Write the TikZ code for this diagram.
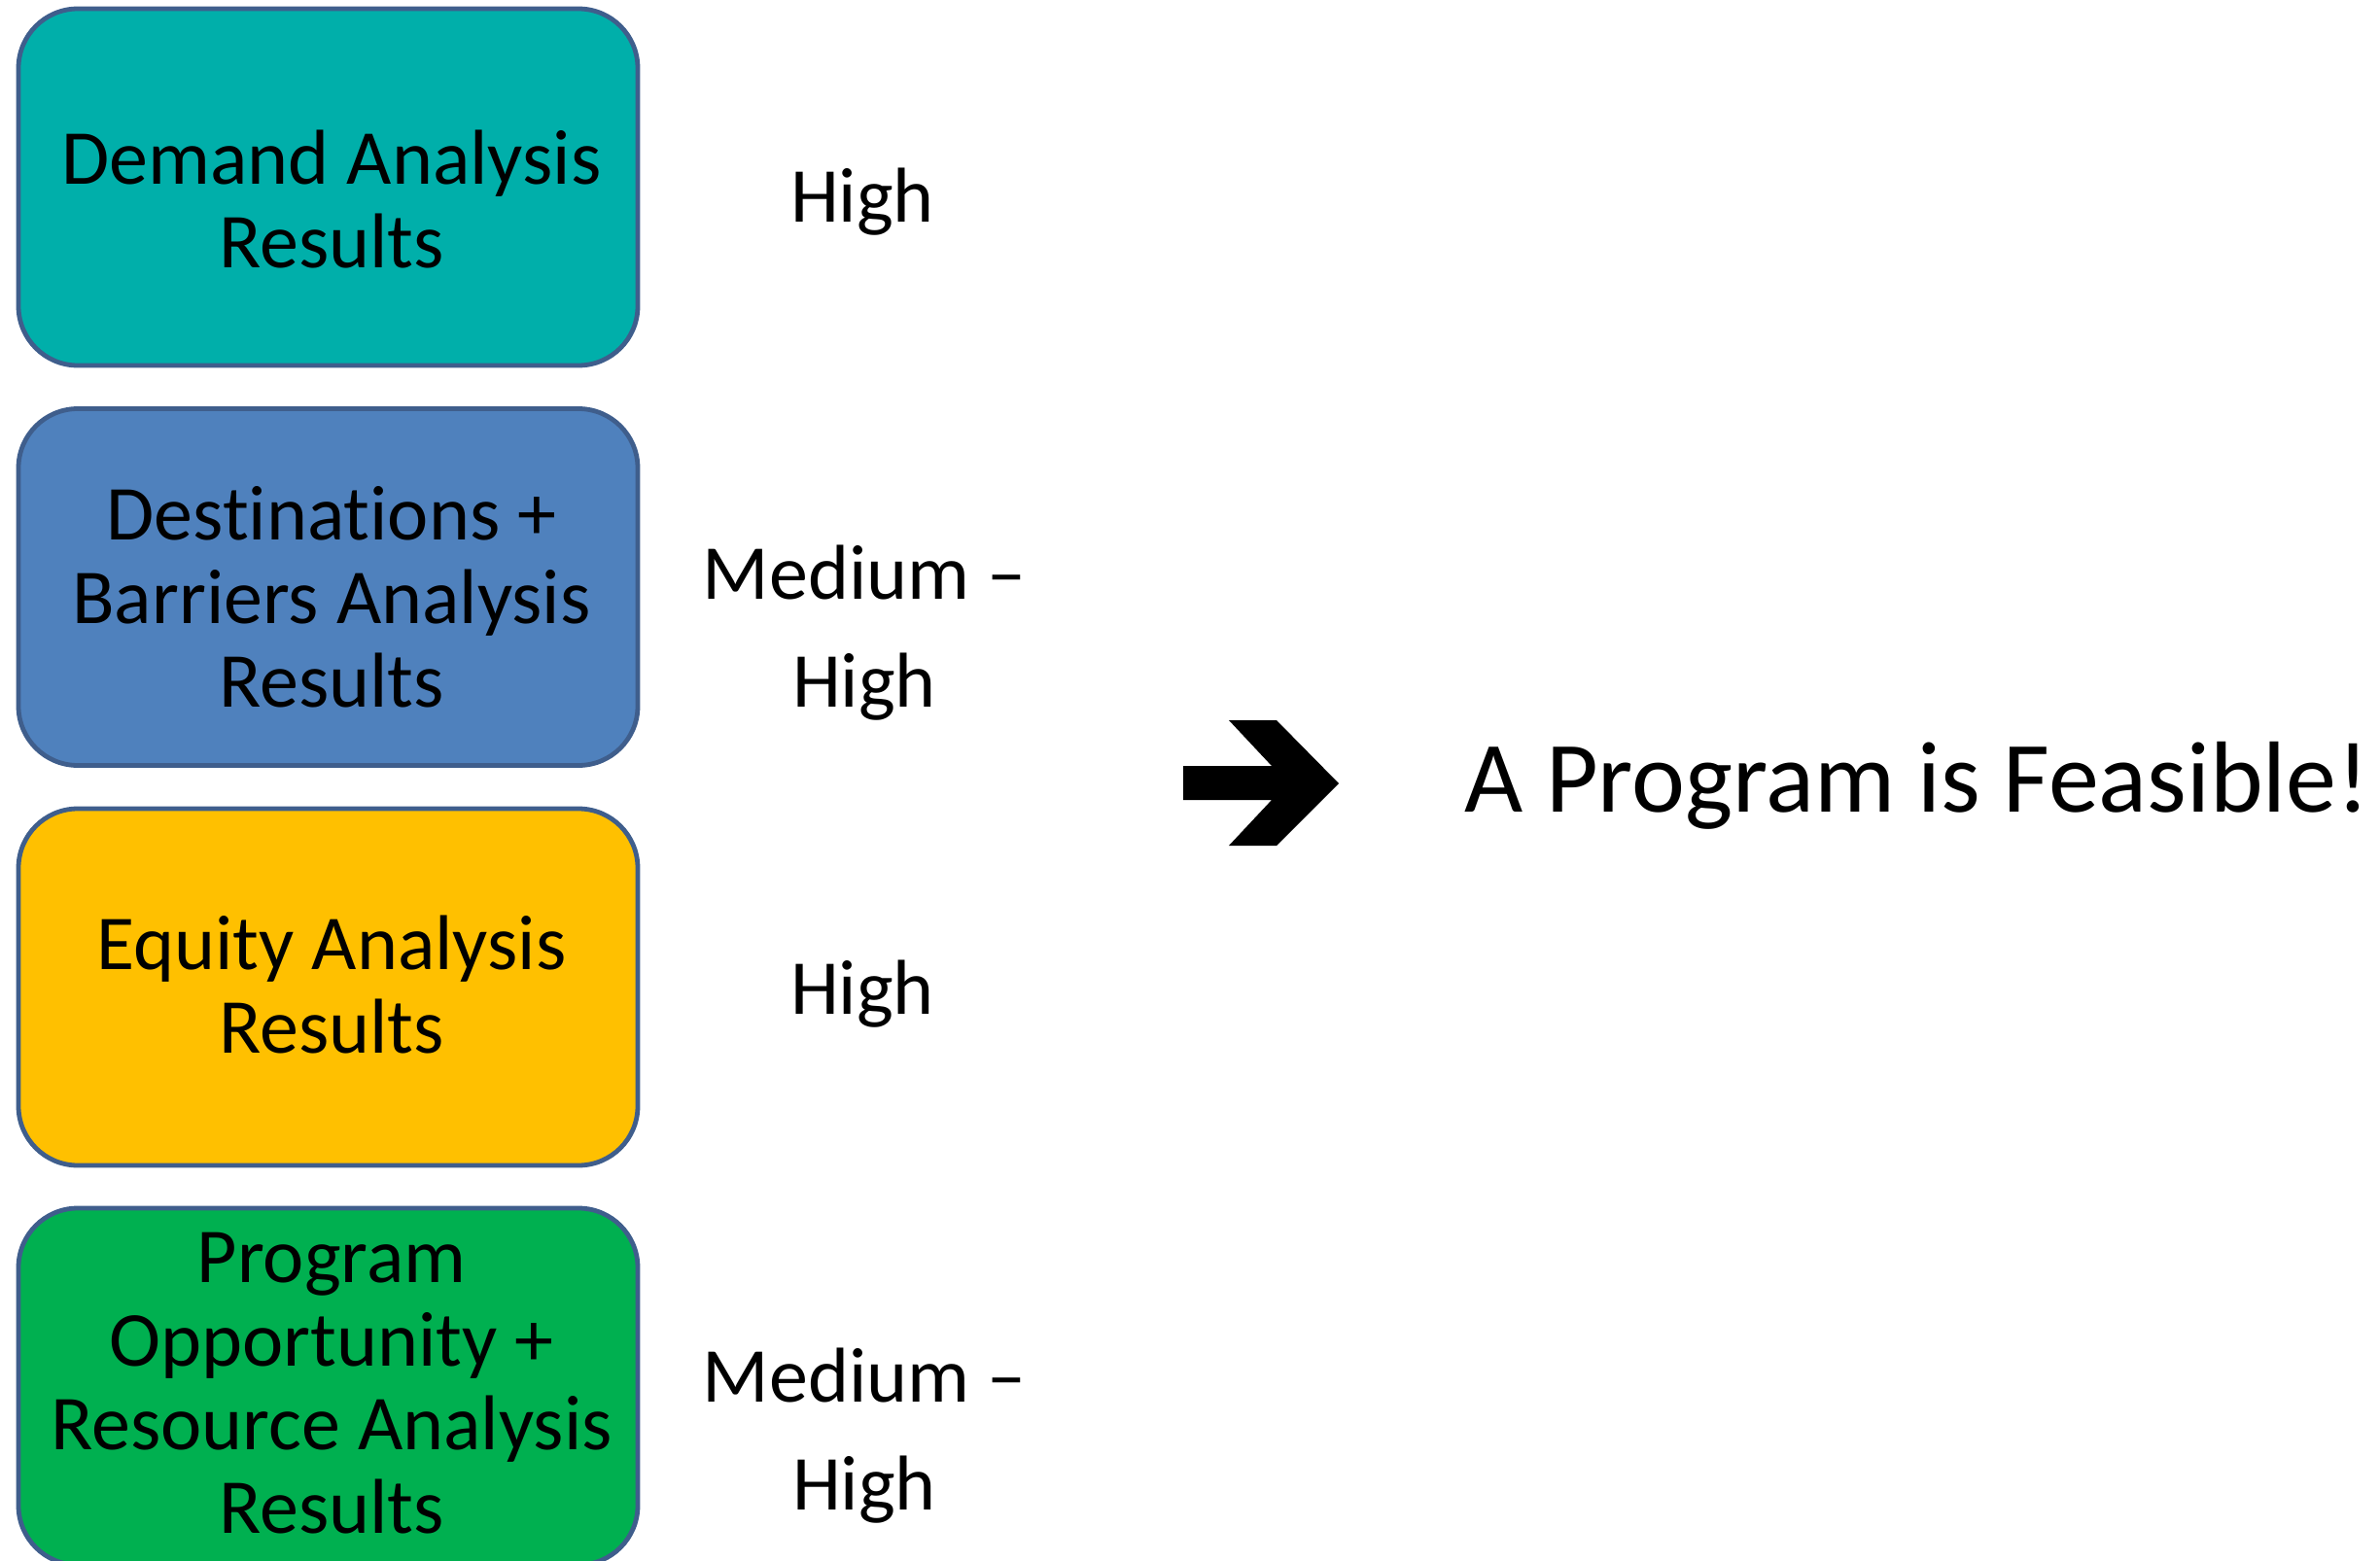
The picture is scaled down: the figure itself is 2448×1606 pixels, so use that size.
\documentclass[tikz,border=0pt]{standalone}
\usepackage{fontspec}
\setmainfont{Carlito}[Ligatures=NoCommon]
\definecolor{boxline}{HTML}{3F5E8C}
\definecolor{demandc}{HTML}{00AFAA}
\definecolor{destc}{HTML}{4F81BD}
\definecolor{equityc}{HTML}{FFC000}
\definecolor{progc}{HTML}{00B050}
\begin{document}
\begin{tikzpicture}[x=0.5pt,y=-0.5pt,
  box/.style={draw=boxline, line width=2.4pt, rounded corners=30.5pt,
    minimum width=318.5pt, minimum height=183.5pt, inner sep=0pt, outer sep=0pt},
  boxtext/.style={anchor=base, align=center, inner sep=0pt,
    font=\fontsize{40}{43}\selectfont},
  rating/.style={anchor=base, align=center, inner sep=0pt,
    font=\fontsize{40}{55.5}\selectfont},
  bigtext/.style={anchor=base west, inner sep=0pt,
    font=\fontsize{52}{60}\selectfont},
  blockarrow/.style={fill=black}
]
\useasboundingbox (0,0) rectangle (2448,1606);
% boxes
\node[box, fill=demandc] (b1) at (337.5,192.5) {};
\node[box, fill=destc]   (b2) at (337.5,604) {};
\node[box, fill=equityc] (b3) at (337.5,1015.5) {};
\node[box, fill=progc]   (b4) at (337.5,1426.5) {};
% box texts (base anchor = baseline of the last line)
\node[boxtext] (t1) at (341,275) {Demand Analysis\\Results};
\node[boxtext] (t2) at (341,727.5) {Destinations +\\Barriers Analysis\\Results};
\node[boxtext] (t3) at (341,1083) {Equity Analysis\\Results};
\node[boxtext] (t4) at (341,1577) {Program\\Opportunity +\\Resource Analysis\\Results};
% ratings
\node[rating] (r1) at (887,228) {High};
\node[rating] (r2) at (889,727.5) {Medium –\\High};
\node[rating] (r3) at (887,1043) {High};
\node[rating] (r4) at (889,1553) {Medium –\\High};
% arrow
\fill[blockarrow] (1217,788) -- (1308,788) -- (1264,741) -- (1313,741) -- (1377,806)
  -- (1313,870) -- (1264,870) -- (1308,823) -- (1217,823) -- cycle;
% conclusion
\node[bigtext] (res) at (1506,835) {A Program is Feasible!};
\end{tikzpicture}
\end{document}
